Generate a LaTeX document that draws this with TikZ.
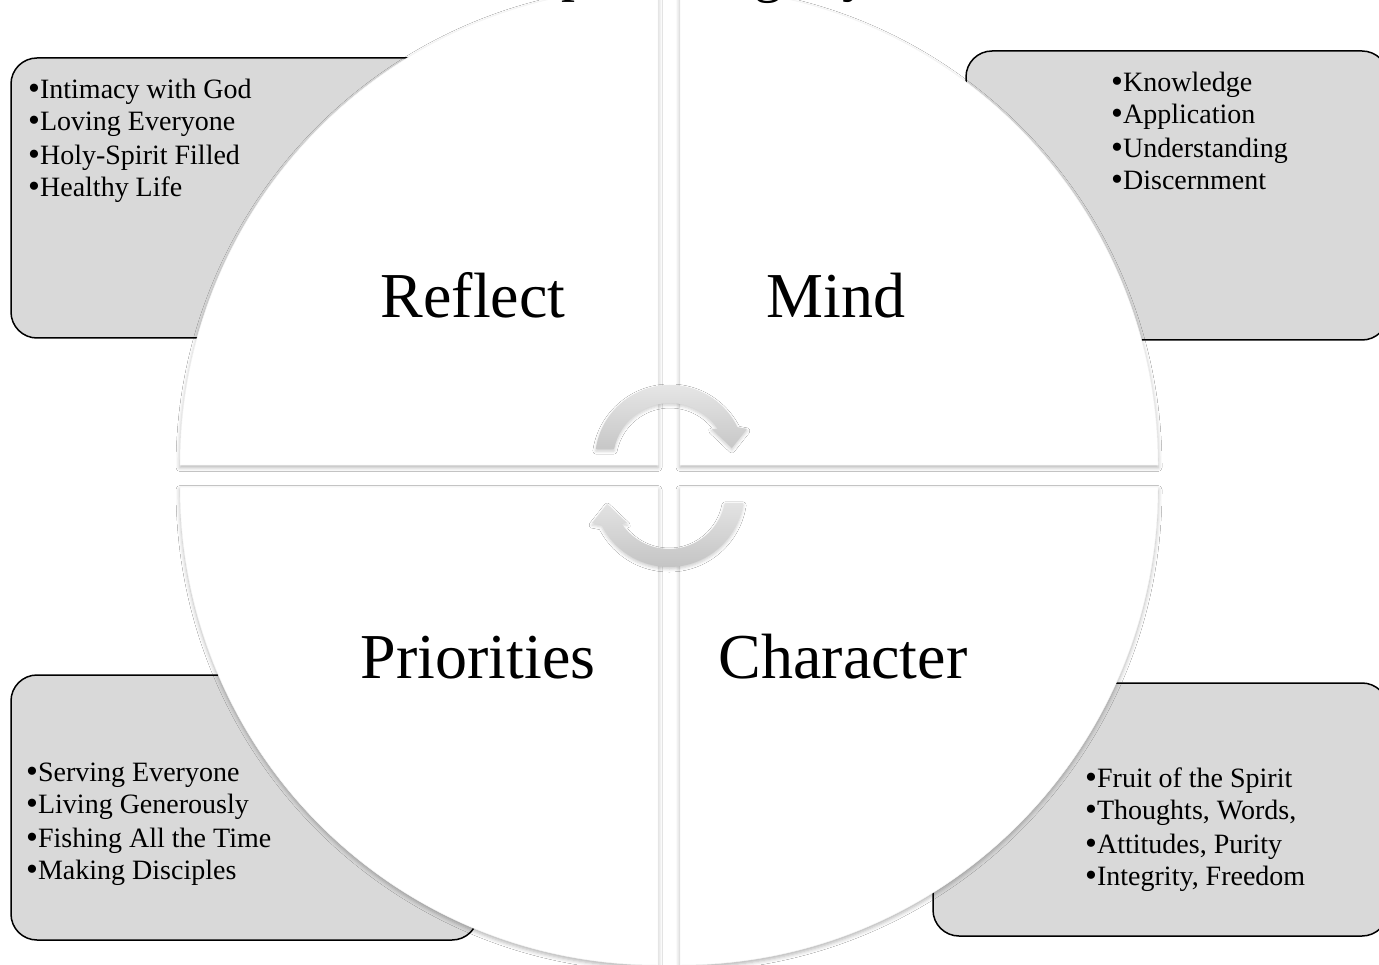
\documentclass[tikz,border=0pt]{standalone}
\usepackage{fontspec}
\setmainfont{Liberation Serif}
\usetikzlibrary{shadows.blur,calc}
\definecolor{panelgray}{HTML}{D9D9D9}
\newcommand\itembullet{{\fontsize{34}{33}\selectfont\raisebox{-1pt}{•}}}
\tikzset{
  x=1pt, y=1pt,
  panel/.style={rounded corners=26pt, fill=panelgray, draw=black, line width=1.5pt},
  quadrant/.style={fill=white, draw=black!4, line width=0.5pt,
    blur shadow={shadow xshift=0pt, shadow yshift=-2.5pt, shadow blur radius=4pt, shadow opacity=30}},
  itemtxt/.style={anchor=base west, inner sep=0pt, font=\fontsize{28}{33}\selectfont},
  quadtxt/.style={anchor=base, inner sep=0pt, font=\fontsize{64}{70}\selectfont},
  titletxt/.style={anchor=base, inner sep=0pt, font=\fontsize{56}{60}\selectfont},
  cyclearrow/.pic={
    \shade[top color=black!9, bottom color=black!24, draw=none,
      blur shadow={shadow xshift=0pt, shadow yshift=-2pt, shadow blur radius=3pt, shadow opacity=20}]
      (0.5,16) ++(171.6:75) arc[start angle=171.6, end angle=26, radius=75]
      -- ($(0.5,16)+(22:83)$) -- ($(0.5,16)+(11:63)$) -- ($(0.5,16)+(37:52)$)
      -- ($(0.5,16)+(33:57)$) arc[start angle=33, end angle=168.9, radius=57] -- cycle;
  }
}
\begin{document}
\begin{tikzpicture}
\useasboundingbox (0,0) rectangle (1379,-965);
\clip (0,0) rectangle (1379,-965);
\fill[white] (0,0) rectangle (1379,-965);

% side panels
\draw[panel] (11,-58) rectangle (600,-338);
\draw[panel] (966,-51) rectangle (1388,-340);
\draw[panel] (11,-675) rectangle (478,-940);
\draw[panel] (933,-683) rectangle (1388,-936);

% four quarters of the circle
\draw[quadrant] (658,-465) -- (180,-465) arc[start angle=180, end angle=90, radius=478] -- cycle;
\draw[quadrant] (680,-465) -- (680,13) arc[start angle=90, end angle=0, radius=478] -- cycle;
\draw[quadrant] (658,-487) -- (180,-487) arc[start angle=180, end angle=270, radius=478] -- cycle;
\draw[quadrant] (680,-487) -- (1158,-487) arc[start angle=0, end angle=-90, radius=478] -- cycle;

% title (mostly above the page edge)
\node[titletxt] (t1) at (575,9) {p};
\node[titletxt] (t2) at (768,8) {g};
\node[titletxt] (t3) at (856,9) {y};

% cycle arrows in the middle
\pic at (669.5,-476) {cyclearrow};
\pic[rotate=180] at (669.5,-476) {cyclearrow};

% quarter labels
\node[quadtxt] (reflect) at (473,-318) {Reflect};
\node[quadtxt] (mind) at (836,-318) {Mind};
\node[quadtxt] (priorities) at (478,-678) {Priorities};
\node[quadtxt] (character) at (843,-678) {Character};

% panel lists
\node[itemtxt] (a1) at (28,-99) {\itembullet Intimacy with God};
\node[itemtxt] (a2) at (28,-131) {\itembullet Loving Everyone};
\node[itemtxt] (a3) at (28,-165) {\itembullet Holy-Spirit Filled};
\node[itemtxt] (a4) at (28,-197) {\itembullet Healthy Life};

\node[itemtxt] (b1) at (1111,-92) {\itembullet Knowledge};
\node[itemtxt] (b2) at (1111,-124) {\itembullet Application};
\node[itemtxt] (b3) at (1111,-158) {\itembullet Understanding};
\node[itemtxt] (b4) at (1111,-190) {\itembullet Discernment};

\node[itemtxt] (c1) at (26,-781) {\itembullet Serving Everyone};
\node[itemtxt] (c2) at (26,-813) {\itembullet Living Generously};
\node[itemtxt] (c3) at (26,-847) {\itembullet Fishing All the Time};
\node[itemtxt] (c4) at (26,-879) {\itembullet Making Disciples};

\node[itemtxt] (d1) at (1085,-787) {\itembullet Fruit of the Spirit};
\node[itemtxt] (d2) at (1085,-819) {\itembullet Thoughts, Words,};
\node[itemtxt] (d3) at (1085,-853) {\itembullet Attitudes, Purity};
\node[itemtxt] (d4) at (1085,-885) {\itembullet Integrity, Freedom};
\end{tikzpicture}
\end{document}
